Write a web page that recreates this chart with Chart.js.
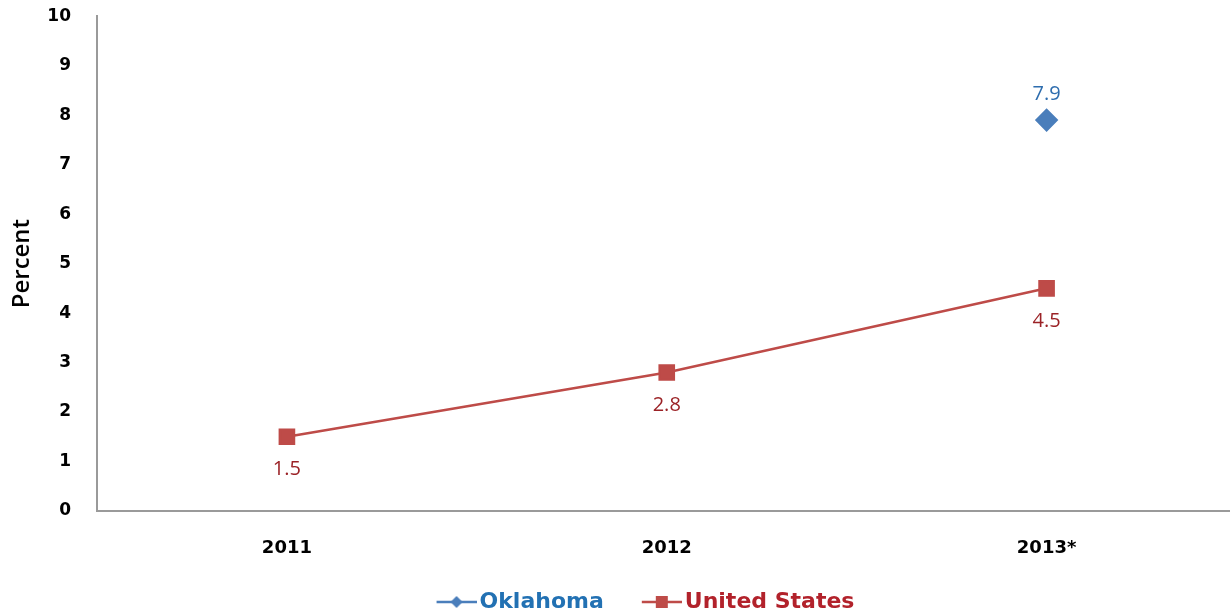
<!DOCTYPE html>
<html>
<head>
<meta charset="utf-8">
<script src="https://cdn.jsdelivr.net/npm/chart.js@4"></script>
<style>
  body { margin: 0; background: #fff; overflow: hidden; }
  #wrap { position: relative; top: -20px; width: 1249px; height: 635px; }
</style>
</head>
<body>
<div id="wrap"><canvas id="rateChart"></canvas></div>
<script>
const years = ['2011', '2012', '2013*'];
const oklahoma = [null, null, 7.9];
const unitedStates = [1.5, 2.8, 4.5];
const yTicks = [0, 1, 2, 3, 4, 5, 6, 7, 8, 9, 10];

const blue = '#4A7EBB';
const red = '#BE4B48';

// legend icon: line with marker, drawn on the right part of a wider canvas
function legendIcon(color, shape) {
    const c = document.createElement('canvas');
    c.width = 82; c.height = 14;
    const g = c.getContext('2d');
    const x0 = 42, x1 = 82, mid = (x0 + x1) / 2;
    g.strokeStyle = color; g.lineWidth = 2.5;
    g.beginPath(); g.moveTo(x0, 7); g.lineTo(x1, 7); g.stroke();
    g.fillStyle = color;
    if (shape === 'diamond') {
        g.beginPath(); g.moveTo(mid, 1); g.lineTo(mid + 6, 7); g.lineTo(mid, 13); g.lineTo(mid - 6, 7); g.closePath(); g.fill();
    } else {
        g.fillRect(mid - 6, 1, 12, 12);
    }
    return c;
}

const valueLabels = {
    id: 'valueLabels',
    afterDatasetsDraw(chart) {
        const ctx = chart.ctx;
        ctx.save();
        ctx.font = '20px "Open Sans", sans-serif';
        ctx.textAlign = 'center';
        ctx.textBaseline = 'middle';
        chart.data.datasets.forEach((ds, i) => {
            const meta = chart.getDatasetMeta(i);
            meta.data.forEach((pt, j) => {
                const v = ds.data[j];
                if (v === null) return;
                ctx.fillStyle = ds.labelColor;
                const dy = ds.labelPos === 'above' ? -26 : 33;
                ctx.fillText(v.toFixed(1), pt.x, pt.y + dy);
            });
        });
        ctx.restore();
    }
};

new Chart(document.getElementById('rateChart'), {
    type: 'line',
    data: {
        labels: years,
        datasets: [{
            label: 'Oklahoma',
            data: oklahoma,
            borderColor: blue,
            backgroundColor: blue,
            borderWidth: 2.5,
            pointStyle: 'rectRot',
            pointRadius: 10,
            labelColor: '#2E6DAE',
            labelPos: 'above',
            icon: legendIcon(blue, 'diamond'),
            textColor: '#2271B3'
        }, {
            label: 'United States',
            data: unitedStates,
            borderColor: red,
            backgroundColor: red,
            borderWidth: 2.5,
            pointStyle: 'rect',
            pointRadius: 10,
            labelColor: '#9B2226',
            labelPos: 'below',
            icon: legendIcon(red, 'rect'),
            textColor: '#B2222B'
        }]
    },
    options: {
        responsive: true,
        maintainAspectRatio: false,
        animation: false,
        layout: { padding: { top: 4, right: 0, bottom: -8, left: 8 } },
        plugins: {
            tooltip: { enabled: false },
            legend: {
                position: 'bottom',
                labels: {
                    usePointStyle: true,
                    pointStyleWidth: 66,
                    boxHeight: 14,
                    padding: 4,
                    font: { family: '"DejaVu Sans", sans-serif', size: 22, weight: 'bold' },
                    generateLabels(chart) {
                        return chart.data.datasets.map((ds, i) => ({
                            text: ds.label,
                            pointStyle: ds.icon,
                            fontColor: ds.textColor,
                            fillStyle: ds.borderColor,
                            strokeStyle: ds.borderColor,
                            lineWidth: 0,
                            datasetIndex: i
                        }));
                    }
                }
            }
        },
        scales: {
            x: {
                offset: true,
                grid: { display: false, drawTicks: false },
                border: { display: true, color: '#9a9a9a', width: 2 },
                ticks: {
                    padding: 27,
                    color: '#000',
                    font: { family: '"DejaVu Sans", sans-serif', size: 18, weight: 'bold' }
                },
                afterFit(scale) { scale.height = 76; }
            },
            y: {
                min: 0,
                max: 10,
                afterBuildTicks(scale) { scale.ticks = yTicks.map(v => ({ value: v })); },
                grid: { display: false, drawTicks: false },
                border: { display: true, color: '#9a9a9a', width: 2 },
                ticks: {
                    padding: 26,
                    color: '#000',
                    font: { family: '"DejaVu Sans", sans-serif', size: 17, weight: 'bold' }
                },
                title: {
                    display: true,
                    text: 'Percent',
                    color: '#000',
                    padding: { top: 0, bottom: 4 },
                    font: { family: '"Open Sans", sans-serif', size: 24, weight: '600' }
                },
                afterFit(scale) { scale.width = 89; }
            }
        }
    },
    plugins: [valueLabels]
});
</script>
</body>
</html>
